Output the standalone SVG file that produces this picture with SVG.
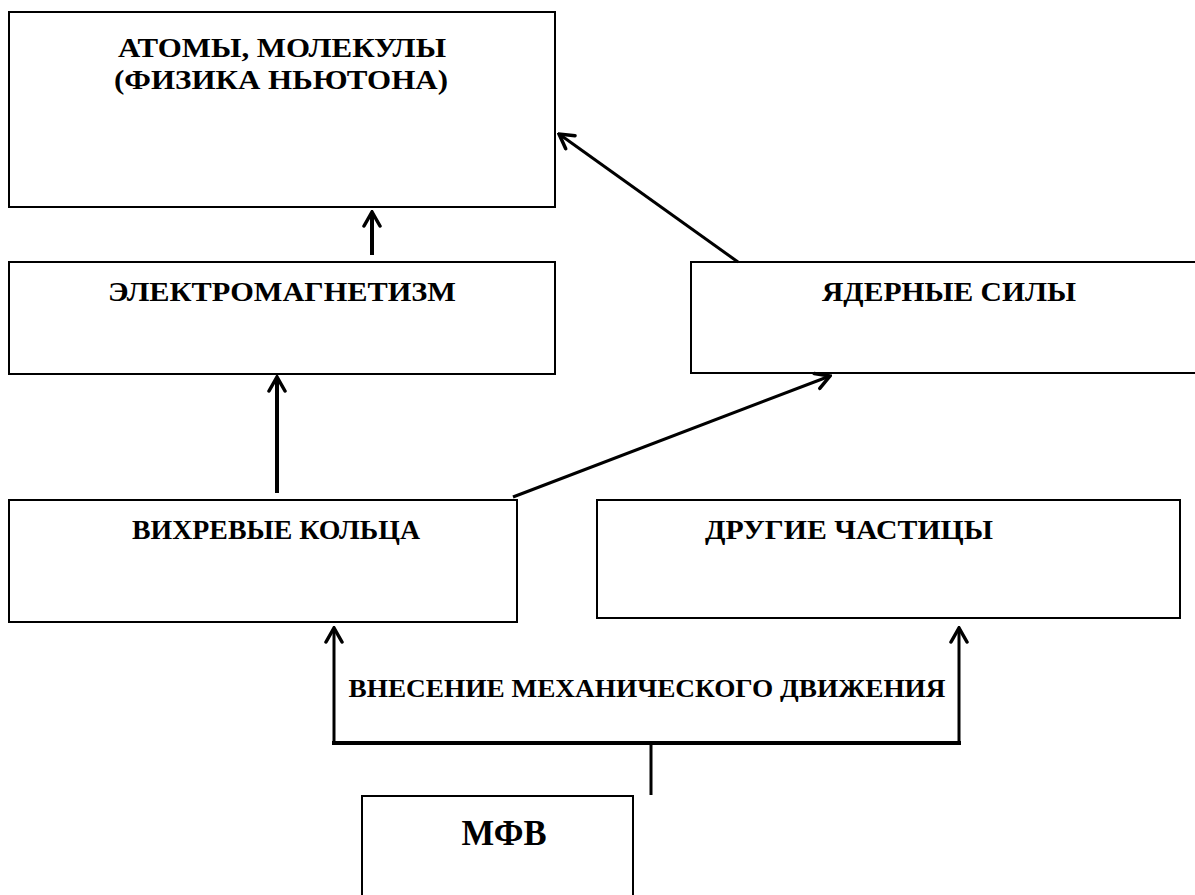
<svg xmlns="http://www.w3.org/2000/svg" width="1195" height="895" viewBox="0 0 1195 895">
<style>
.box{fill:#fff;stroke:#000;stroke-width:2}
.t{font-family:"Liberation Serif","DejaVu Serif",serif;font-weight:bold;font-size:27px;fill:#000;text-anchor:middle}
.c{fill:none;stroke:#000;stroke-linecap:butt}
</style>
<defs>
<marker id="ah" markerUnits="userSpaceOnUse" viewBox="0 0 20 20" refX="18" refY="10" markerWidth="20" markerHeight="20" orient="auto">
<path d="M4,2 L18,10 L4,18" fill="none" stroke="#000" stroke-width="3.5" stroke-linecap="round" stroke-linejoin="miter"/>
</marker>
</defs>
<rect width="1195" height="895" fill="#fff"/>
<g id="n-atoms">
<rect class="box" x="9" y="12" width="546" height="195"/>
<text class="t" x="282" y="57" textLength="328" lengthAdjust="spacingAndGlyphs">АТОМЫ, МОЛЕКУЛЫ</text>
<text class="t" x="281" y="89" textLength="334" lengthAdjust="spacingAndGlyphs">(ФИЗИКА НЬЮТОНА)</text>
</g>
<g id="n-em">
<rect class="box" x="9" y="262" width="546" height="112"/>
<text class="t" x="282" y="301" textLength="348" lengthAdjust="spacingAndGlyphs">ЭЛЕКТРОМАГНЕТИЗМ</text>
</g>
<g id="n-nuclear">
<rect class="box" x="691" y="262" width="520" height="111"/>
<text class="t" x="949" y="301" textLength="254" lengthAdjust="spacingAndGlyphs">ЯДЕРНЫЕ СИЛЫ</text>
</g>
<g id="n-vortex">
<rect class="box" x="9" y="500" width="508" height="122"/>
<text class="t" x="276" y="539" textLength="288" lengthAdjust="spacingAndGlyphs">ВИХРЕВЫЕ КОЛЬЦА</text>
</g>
<g id="n-other">
<rect class="box" x="597" y="500" width="583" height="118"/>
<text class="t" x="849" y="539" textLength="288" lengthAdjust="spacingAndGlyphs">ДРУГИЕ ЧАСТИЦЫ</text>
</g>
<g id="n-mfv">
<rect class="box" x="362" y="796" width="271" height="110"/>
<text class="t" x="504" y="845" style="font-size:36px" textLength="85" lengthAdjust="spacingAndGlyphs">МФВ</text>
</g>
<g id="connectors">
<line class="c" x1="372" y1="255" x2="372" y2="212" stroke-width="4" marker-end="url(#ah)"/>
<line class="c" x1="738" y1="262" x2="559" y2="134" stroke-width="3" marker-end="url(#ah)"/>
<line class="c" x1="277" y1="493" x2="277" y2="377" stroke-width="4" marker-end="url(#ah)"/>
<line class="c" x1="513" y1="497" x2="830" y2="376" stroke-width="3" marker-end="url(#ah)"/>
<line class="c" x1="651" y1="795" x2="651" y2="743" stroke-width="3"/>
<polyline class="c" points="334,743 334,628" stroke-width="3" marker-end="url(#ah)"/>
<polyline class="c" points="959,743 959,628" stroke-width="3" marker-end="url(#ah)"/>
<line class="c" x1="332" y1="743" x2="961" y2="743" stroke-width="4"/>
<text class="t" x="647" y="697" style="font-size:25px" textLength="597" lengthAdjust="spacingAndGlyphs">ВНЕСЕНИЕ МЕХАНИЧЕСКОГО ДВИЖЕНИЯ</text>
</g>
</svg>
